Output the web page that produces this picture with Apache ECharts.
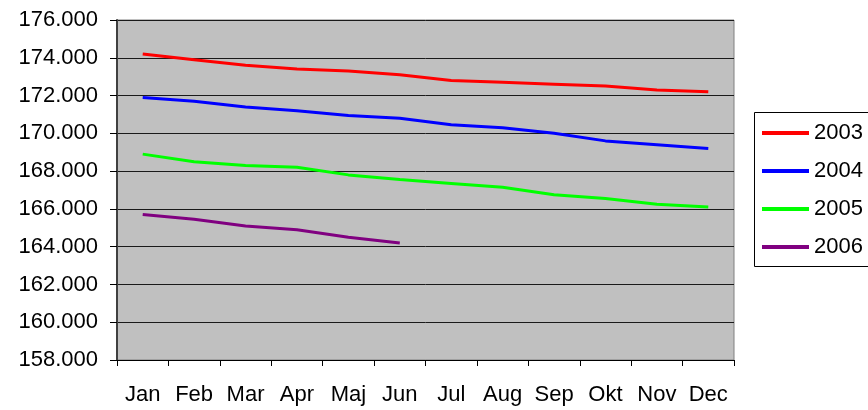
<!DOCTYPE html>
<html>
<head>
<meta charset="utf-8">
<script src="https://cdn.jsdelivr.net/npm/echarts@6/dist/echarts.min.js"></script>
<style>
    html, body { margin: 0; padding: 0; background: #fff; }
    #chart { width: 868px; height: 410px; }
</style>
</head>
<body>
<div id="chart"></div>
<script>
    const months = ["Jan", "Feb", "Mar", "Apr", "Maj", "Jun", "Jul", "Aug", "Sep", "Okt", "Nov", "Dec"];

    const y2003 = [174200, 173900, 173600, 173400, 173300, 173100, 172800, 172700, 172600, 172500, 172300, 172200];
    const y2004 = [171900, 171700, 171400, 171200, 170950, 170800, 170450, 170300, 170000, 169600, 169400, 169200];
    const y2005 = [168900, 168500, 168300, 168200, 167800, 167550, 167350, 167150, 166750, 166550, 166250, 166100];
    const y2006 = [165700, 165450, 165100, 164900, 164500, 164200];

    const yMin = 158000;
    const yMax = 176000;
    const yStep = 2000;

    const font = "'Liberation Sans', Arial, sans-serif";

    function fmt(v) {
        return String(v).replace(/\B(?=(\d{3})+(?!\d))/g, ".");
    }

    function line(name, data, color) {
        return {
            name: name,
            type: "line",
            data: data,
            symbol: "none",
            lineStyle: { color: color, width: 3 },
            itemStyle: { color: color },
            silent: true
        };
    }

    const chart = echarts.init(document.getElementById("chart"));
    chart.setOption({
        animation: false,
        grid: {
            left: 117,
            right: 134,
            top: 20,
            bottom: 50,
            show: true,
            backgroundColor: "#c0c0c0",
            borderColor: "#808080",
            borderWidth: 1
        },
        // legend frame runs off the right edge, like the original
        graphic: [{
            type: "rect",
            z: 0,
            silent: true,
            shape: { x: 754.5, y: 112.5, width: 200, height: 154 },
            style: { fill: "#fff", stroke: "#000", lineWidth: 1 }
        }],
        legend: {
            orient: "vertical",
            left: 754,
            top: 112,
            icon: "rect",
            itemWidth: 47,
            itemHeight: 4,
            itemGap: 16,
            padding: [10, 10, 6, 8],
            textStyle: { fontFamily: font, fontSize: 22, color: "#000", lineHeight: 22 },
            data: ["2003", "2004", "2005", "2006"]
        },
        xAxis: {
            type: "category",
            data: months,
            boundaryGap: true,
            axisLine: { lineStyle: { color: "#000", width: 1 } },
            axisTick: { show: true, length: 6, lineStyle: { color: "#000" } },
            axisLabel: { color: "#000", fontFamily: font, fontSize: 22, margin: 24 },
            splitLine: { show: false }
        },
        yAxis: {
            type: "value",
            min: yMin,
            max: yMax,
            interval: yStep,
            axisLine: { show: true, lineStyle: { color: "#404040", width: 2 } },
            axisTick: { show: true, length: 7, lineStyle: { color: "#000" } },
            axisLabel: { color: "#000", fontFamily: font, fontSize: 22, margin: 19, formatter: fmt },
            splitLine: { show: true, lineStyle: { color: "#1a1a1a", width: 1 } }
        },
        series: [
            line("2003", y2003, "#ff0000"),
            line("2004", y2004, "#0000ff"),
            line("2005", y2005, "#00ff00"),
            line("2006", y2006, "#800080")
        ]
    });
</script>
</body>
</html>
